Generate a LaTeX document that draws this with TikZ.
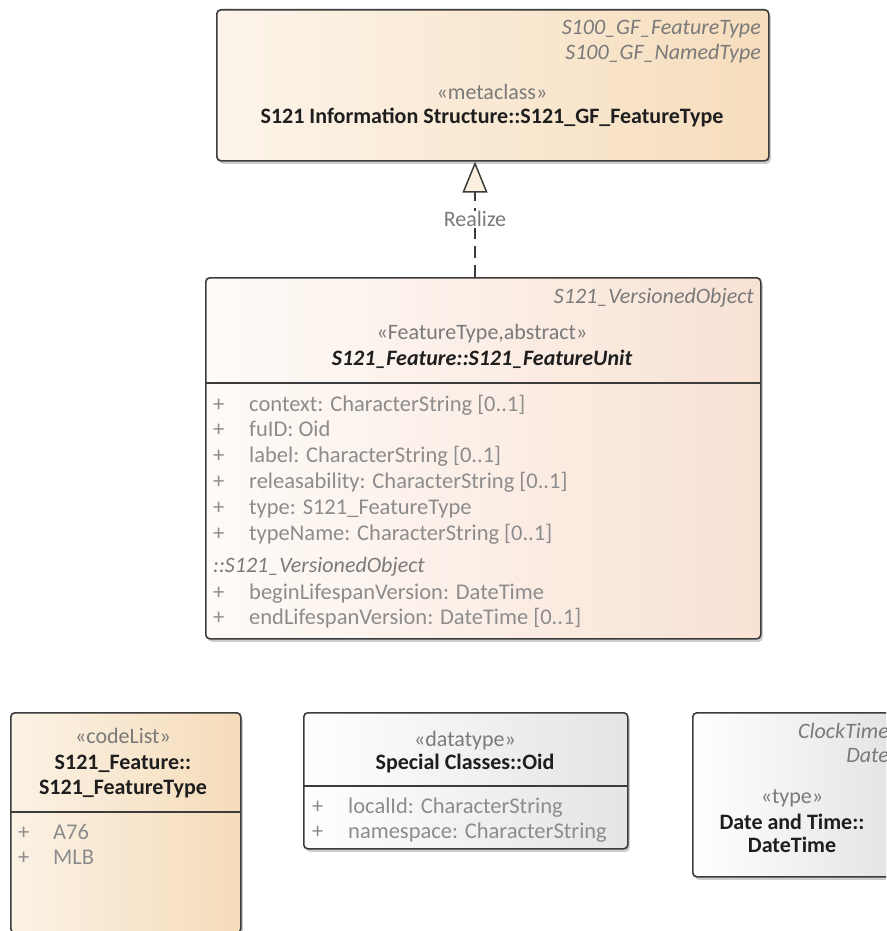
\documentclass[tikz,border=0pt]{standalone}
\usepackage{fontspec}
\setmainfont{Carlito}
\usetikzlibrary{arrows.meta,shadows}

\definecolor{boxline}{HTML}{3C3C3C}
\definecolor{txtgray}{HTML}{7A7A7A}
\definecolor{attrgray}{HTML}{8C8C8C}
\definecolor{txtdark}{HTML}{1E1E1E}
\definecolor{metaL}{HTML}{FCF4EA}
\definecolor{metaR}{HTML}{F6DDBC}
\definecolor{unitL}{HTML}{FEFBF8}
\definecolor{unitR}{HTML}{F8E2D4}
\definecolor{codeL}{HTML}{FBF2E5}
\definecolor{codeR}{HTML}{F5DCBA}
\definecolor{grayR}{HTML}{E4E4E4}
\definecolor{tipfill}{HTML}{FBEFE0}

\begin{document}
\begin{tikzpicture}[x=1pt,y=-1pt,
    box/.style={draw=boxline,line width=1.6pt,rounded corners=4pt,anchor=north west,inner sep=0pt,
      drop shadow={shadow xshift=2pt,shadow yshift=-3pt,opacity=.2,fill=black}},
    stereo/.style={text=txtgray,font=\fontsize{22}{25}\selectfont,inner sep=0pt,anchor=mid,yshift=-4pt},
    cname/.style={text=txtdark,font=\bfseries\fontsize{22}{25}\selectfont,inner sep=0pt,anchor=mid,yshift=-4pt},
    parent/.style={text=txtgray,font=\itshape\fontsize{22}{25}\selectfont,inner sep=0pt,anchor=mid east,yshift=-4pt},
    attr/.style={text=attrgray,font=\fontsize{22.5}{25}\selectfont,inner sep=0pt,anchor=mid west,yshift=-4pt},
    sep/.style={draw=boxline,line width=1.6pt},
    realize/.style={draw=boxline,line width=1.5pt,dash pattern=on 12pt off 7pt,
      -{Triangle[open,length=31pt,width=25pt,fill=tipfill]}}
  ]
  \useasboundingbox (0,0) rectangle (886,931);
  \clip (0,0) rectangle (886,931);

  % metaclass on top
  \node[box,left color=metaL,right color=metaR,minimum width=552pt,minimum height=151pt] (meta) at (216,9) {};
  \node[parent] (metaP1) at (761,28) {S100\_GF\_FeatureType};
  \node[parent] (metaP2) at (761,53) {S100\_GF\_NamedType};
  \node[stereo] (metaS) at (492,93) {«metaclass»};
  \node[cname] (metaN) at (492,117) {S121 Information Structure::S121\_GF\_FeatureType};

  % feature unit
  \node[box,left color=unitL,right color=unitR,minimum width=555pt,minimum height=361pt] (unit) at (205,277) {};
  \node[parent] (unitP) at (754,297) {S121\_VersionedObject};
  \node[stereo] (unitS) at (482,333) {«FeatureType,abstract»};
  \node[cname,font=\bfseries\itshape\fontsize{22}{25}\selectfont] (unitN) at (482,359) {S121\_Feature::S121\_FeatureUnit};
  \draw[sep] (205,383) -- (760,383);
  \node[attr] (a1p) at (213,405) {+};  \node[attr] (a1) at (249,405) {context: CharacterString [0..1]};
  \node[attr] (a2p) at (213,430) {+};  \node[attr] (a2) at (249,430) {fuID: Oid};
  \node[attr] (a3p) at (213,456) {+};  \node[attr] (a3) at (249,456) {label: CharacterString [0..1]};
  \node[attr] (a4p) at (213,482) {+};  \node[attr] (a4) at (249,482) {releasability: CharacterString [0..1]};
  \node[attr] (a5p) at (213,508) {+};  \node[attr] (a5) at (249,508) {type: S121\_FeatureType};
  \node[attr] (a6p) at (213,534) {+};  \node[attr] (a6) at (249,534) {typeName: CharacterString [0..1]};
  \node[attr,text=txtgray,font=\itshape\fontsize{22}{25}\selectfont] (inh) at (213,566) {::S121\_VersionedObject};
  \node[attr] (a7p) at (213,593) {+};  \node[attr] (a7) at (249,593) {beginLifespanVersion: DateTime};
  \node[attr] (a8p) at (213,618) {+};  \node[attr] (a8) at (249,618) {endLifespanVersion: DateTime [0..1]};

  % realization
  \coordinate (rx) at (475,0);
  \draw[realize] (rx |- unit.north) -- node[fill=white,inner sep=1pt,text=txtgray,
    font=\fontsize{22}{25}\selectfont,pos=.5] (lbl) {Realize} (rx |- meta.south);

  % code list
  \node[box,left color=codeL,right color=codeR,minimum width=230pt,minimum height=220pt] (code) at (10,712) {};
  \node[stereo] (codeS) at (123,737) {«codeList»};
  \node[cname] (codeN1) at (123,763) {S121\_Feature::};
  \node[cname] (codeN2) at (123,788) {S121\_FeatureType};
  \draw[sep] (10,812) -- (240,812);
  \node[attr] (c1p) at (18,833) {+};  \node[attr] (c1) at (53,833) {A76};
  \node[attr] (c2p) at (18,858) {+};  \node[attr] (c2) at (53,858) {MLB};

  % oid
  \node[box,left color=white,right color=grayR,minimum width=324pt,minimum height=136pt] (oid) at (303,712) {};
  \node[stereo] (oidS) at (465,740) {«datatype»};
  \node[cname] (oidN) at (465,763) {Special Classes::Oid};
  \draw[sep] (303,786) -- (627,786);
  \node[attr] (o1p) at (312,807) {+};  \node[attr] (o1) at (348,807) {localId: CharacterString};
  \node[attr] (o2p) at (312,832) {+};  \node[attr] (o2) at (348,832) {namespace: CharacterString};

  % date time
  \node[box,left color=white,right color=grayR,minimum width=201pt,minimum height=164pt] (dt) at (692,712) {};
  \node[parent] (dtP1) at (889,732) {ClockTime};
  \node[parent] (dtP2) at (889,756) {Date};
  \node[stereo] (dtS) at (792,797) {«type»};
  \node[cname] (dtN1) at (792,823) {Date and Time::};
  \node[cname] (dtN2) at (792,846) {DateTime};
\end{tikzpicture}
\end{document}
